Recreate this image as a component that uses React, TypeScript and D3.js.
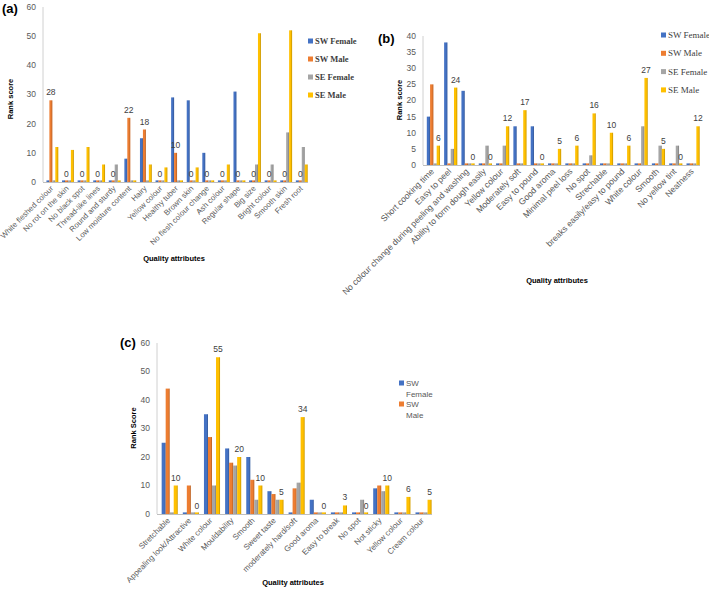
import React from "react";
import * as d3 from "d3";

const seriesNames = ["SW Female", "SW Male", "SE Female", "SE Male"];
const seriesColors = ["#4472C4", "#ED7D31", "#A5A5A5", "#FFC000"];

// Panel (a)
const catsA = [
  "White fleshed colour", "No rot on the skin", "No black spot", "Thread-like lines",
  "Round and sturdy", "Low moisture content", "Hairy", "Yellow colour", "Healthy tuber",
  "Brown skin", "No flesh colour change", "Ash colour", "Regular shape", "Big size",
  "Bright colour", "Smooth skin", "Fresh root",
];
const aSWFemale = [0, 0, 0, 0, 0, 8, 15, 0, 29, 28, 10, 0, 31, 0, 0, 0, 0];
const aSWMale = [28, 0, 0, 0, 0, 22, 18, 0, 10, 0, 0, 0, 0, 0, 0, 0, 0];
const aSEFemale = [0, 0, 0, 0, 6, 0, 0, 0, 0, 0, 0, 0, 0, 6, 6, 17, 12];
const aSEMale = [12, 11, 12, 6, 0, 0, 6, 5, 0, 5, 0, 6, 0, 51, 0, 52, 6];

// Panel (b)
const catsB = [
  "Short cooking time", "Easy to peel", "No colour change during peeling and washing",
  "Ability to form dough easily", "Yellow colour", "Moderately soft", "Easy to pound",
  "Good aroma", "Minimal peel loss", "No spot", "Strechable", "breaks easily/easy to pound",
  "White colour", "Smooth", "No yellow tint", "Neatness",
];
const bSWFemale = [15, 38, 23, 0, 0, 12, 12, 0, 0, 0, 0, 0, 0, 0, 0, 0];
const bSWMale = [25, 0, 0, 0, 0, 0, 0, 0, 0, 0, 0, 0, 0, 0, 0, 0];
const bSEFemale = [0, 5, 0, 6, 6, 0, 0, 0, 0, 3, 0, 0, 12, 6, 6, 0];
const bSEMale = [6, 24, 0, 0, 12, 17, 0, 5, 6, 16, 10, 6, 27, 5, 0, 12];

// Panel (c)
const catsC = [
  "Stretchable", "Appealing look/Attractive", "White colour", "Mouldability", "Smooth",
  "Sweet taste", "moderately hard/soft", "Good aroma", "Easy to break", "No spot",
  "Not sticky", "Yellow colour", "Cream colour",
];
const cSWFemale = [25, 0, 35, 23, 20, 8, 0, 5, 0, 0, 9, 0, 0];
const cSWMale = [44, 10, 27, 18, 12, 7, 9, 0, 0, 0, 10, 0, 0];
const cSEFemale = [0, 0, 10, 17, 5, 5, 11, 0, 0, 5, 8, 0, 0];
const cSEMale = [10, 0, 55, 20, 10, 5, 34, 0, 3, 0, 10, 6, 5];

const ticksA = [0, 10, 20, 30, 40, 50, 60];
const ticksB = [0, 5, 10, 15, 20, 25, 30, 35, 40];
const ticksC = [0, 10, 20, 30, 40, 50, 60];

const SANS = "'Liberation Sans', Arial, sans-serif";
const SERIF = "'Liberation Serif', 'Times New Roman', serif";

type PanelProps = {
  tag: string;
  tagX: number;
  tagY: number;
  cats: string[];
  series: number[][];
  labelIdx: number;
  ticks: number[];
  x0: number;
  x1: number;
  yTop: number;
  yBottom: number;
  yTitle: string;
  yTitleX: number;
  yTitleY: number;
  xTitleX: number;
  xTitleY: number;
  xLabelSize: number;
  legend: React.ReactNode;
};

function Panel(p: PanelProps) {
  const yMax = p.ticks[p.ticks.length - 1];
  const y = d3.scaleLinear().domain([0, yMax]).range([p.yBottom, p.yTop]);
  const x = d3.scaleBand<string>().domain(p.cats).range([p.x0, p.x1]).padding(0);
  const bw = x.bandwidth();
  const sub = d3.scaleBand<number>().domain([0, 1, 2, 3]).range([0.22 * bw, 0.98 * bw]).padding(0);
  const sw = sub.bandwidth();
  const y0 = y(0);
  return (
    <g>
      <text x={p.tagX} y={p.tagY} fontFamily={SANS} fontWeight="bold" fontSize={13} fill="#000">
        {p.tag}
      </text>
      <line x1={p.x0} x2={p.x0} y1={y(yMax)} y2={y0} stroke="#D0D0D0" strokeWidth={1} />
      {p.ticks.map((t) => (
        <text key={t} x={p.x0 - 7} y={y(t)} dy="0.35em" textAnchor="end" fontFamily={SANS} fontSize={8.5} fill="#595959">
          {t}
        </text>
      ))}
      <text
        transform={`translate(${p.yTitleX},${p.yTitleY}) rotate(-90)`}
        textAnchor="middle" fontFamily={SANS} fontWeight="bold" fontSize={7.5} fill="#000"
      >
        {p.yTitle}
      </text>
      {p.cats.map((c, ci) =>
        p.series.map((vals, si) => {
          const v = vals[ci];
          const bx = (x(c) as number) + (sub(si) as number);
          const h = Math.max(y0 - y(v), 1.6);
          return (
            <g key={`${ci}-${si}`}>
              <rect x={bx} y={y0 - h} width={sw} height={h} fill={seriesColors[si]} />
              <rect x={bx + sw - 0.9} y={y0 - h} width={0.9} height={h} fill="#000" opacity={0.18} />
            </g>
          );
        })
      )}
      <line x1={p.x0} x2={p.x1} y1={y0 + 0.5} y2={y0 + 0.5} stroke="#BFBFBF" strokeWidth={1.2} />
      {p.cats.map((c, ci) => {
        const v = p.series[p.labelIdx][ci];
        const cx = (x(c) as number) + (sub(p.labelIdx) as number) + sw / 2;
        return (
          <text key={c} x={cx} y={y(v) - 5} textAnchor="middle" fontFamily={SANS} fontSize={8.5} fill="#404040">
            {v}
          </text>
        );
      })}
      {p.cats.map((c) => {
        const cx = (x(c) as number) + bw / 2;
        return (
          <text
            key={c}
            transform={`translate(${cx + 3},${y0 + 7}) rotate(-45)`}
            textAnchor="end" fontFamily={SANS} fontSize={p.xLabelSize} fill="#595959"
          >
            {c}
          </text>
        );
      })}
      <text x={p.xTitleX} y={p.xTitleY} textAnchor="middle" fontFamily={SANS} fontWeight="bold" fontSize={7.5} fill="#000">
        Quality attributes
      </text>
      {p.legend}
    </g>
  );
}

export default function App() {
  const legendA = (
    <g>
      {seriesNames.map((n, i) => (
        <g key={n}>
          <rect x={308} y={41 + i * 18 - 2.5} width={5} height={5} fill={seriesColors[i]} />
          <text x={315} y={41 + i * 18} dy="0.35em" fontFamily={SERIF} fontWeight="bold" fontSize={8.5} fill="#404040">
            {n}
          </text>
        </g>
      ))}
    </g>
  );
  const legendB = (
    <g>
      {seriesNames.map((n, i) => (
        <g key={n}>
          <rect x={661} y={35 + i * 18.3 - 2.5} width={5} height={5} fill={seriesColors[i]} />
          <text x={668} y={35 + i * 18.3} dy="0.35em" fontFamily={SERIF} fontSize={9} fill="#404040">
            {n}
          </text>
        </g>
      ))}
    </g>
  );
  const legendC = (
    <g>
      {[0, 1].map((i) => {
        const parts = seriesNames[i].split(" ");
        const yy = 383 + i * 21;
        return (
          <g key={i}>
            <rect x={399} y={yy - 2.5} width={5} height={5} fill={seriesColors[i]} />
            <text x={406} y={yy} dy="0.35em" fontFamily={SANS} fontSize={8} fill="#595959">
              {parts[0]}
            </text>
            <text x={406} y={yy + 11} dy="0.35em" fontFamily={SANS} fontSize={8} fill="#595959">
              {parts[1]}
            </text>
          </g>
        );
      })}
    </g>
  );

  return (
    <svg width={709} height={599} style={{ position: "absolute", left: 0, top: 0, background: "#fff" }}>
      <Panel
        tag="(a)" tagX={2} tagY={13}
        cats={catsA} series={[aSWFemale, aSWMale, aSEFemale, aSEMale]} labelIdx={1}
        ticks={ticksA} x0={43} x1={308} yTop={7} yBottom={182}
        yTitle="Rank score" yTitleX={13} yTitleY={99} xTitleX={174} xTitleY={261}
        xLabelSize={7.8}
        legend={legendA}
      />
      <Panel
        tag="(b)" tagX={378} tagY={43}
        cats={catsB} series={[bSWFemale, bSWMale, bSEFemale, bSEMale]} labelIdx={3}
        ticks={ticksB} x0={423} x1={700} yTop={36} yBottom={165}
        yTitle="Rank score" yTitleX={402} yTitleY={100} xTitleX={557} xTitleY={283}
        xLabelSize={8.6}
        legend={legendB}
      />
      <Panel
        tag="(c)" tagX={120} tagY={347}
        cats={catsC} series={[cSWFemale, cSWMale, cSEFemale, cSEMale]} labelIdx={3}
        ticks={ticksC} x0={157} x1={432} yTop={343} yBottom={514}
        yTitle="Rank Score" yTitleX={136} yTitleY={428} xTitleX={293} xTitleY={585}
        xLabelSize={8}
        legend={legendC}
      />
    </svg>
  );
}
